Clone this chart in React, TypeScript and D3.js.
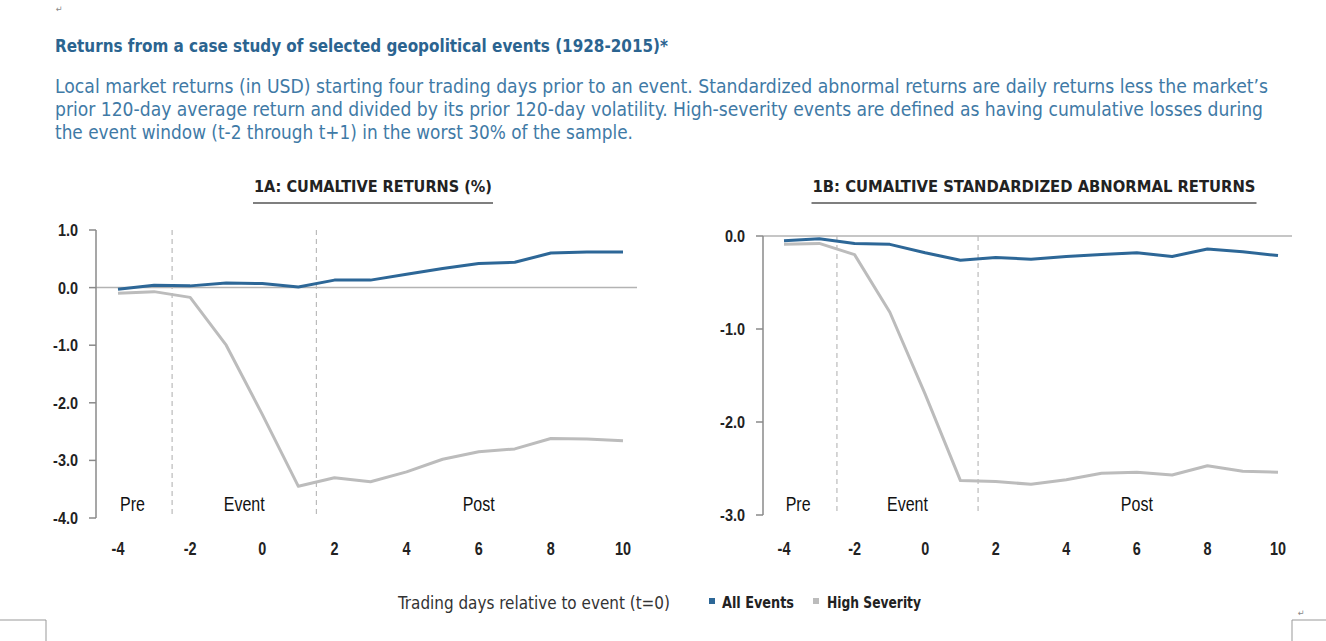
import * as d3 from "d3";

// ---- data ----
const days = [-4, -3, -2, -1, 0, 1, 2, 3, 4, 5, 6, 7, 8, 9, 10];
const cumAll = [-0.03, 0.04, 0.03, 0.08, 0.07, 0.01, 0.13, 0.13, 0.23, 0.33, 0.42, 0.44, 0.6, 0.62, 0.62];
const cumHigh = [-0.1, -0.07, -0.17, -1.0, -2.2, -3.45, -3.3, -3.37, -3.2, -2.98, -2.85, -2.8, -2.62, -2.63, -2.66];
const carAll = [-0.05, -0.03, -0.08, -0.09, -0.18, -0.26, -0.23, -0.25, -0.22, -0.2, -0.18, -0.22, -0.14, -0.17, -0.21];
const carHigh = [-0.09, -0.08, -0.2, -0.82, -1.7, -2.63, -2.64, -2.67, -2.62, -2.55, -2.54, -2.57, -2.47, -2.53, -2.54];
const xTicks = [-4, -2, 0, 2, 4, 6, 8, 10];
const ticksA = [1, 0, -1, -2, -3, -4];
const ticksB = [0, -1, -2, -3];
const phases = [
  { label: "Pre", at: -3.6 },
  { label: "Event", at: -0.5 },
  { label: "Post", at: 6 },
];
const dividers = [-2.5, 1.5];

const title = "Returns from a case study of selected geopolitical events (1928-2015)*";
const intro = [
  "Local market returns (in USD) starting four trading days prior to an event. Standardized abnormal returns are daily returns less the market\u2019s",
  "prior 120-day average return and divided by its prior 120-day volatility. High-severity events are defined as having cumulative losses during",
  "the event window (t-2 through t+1) in the worst 30% of the sample.",
];
const introWidths = [1213, 1208, 578];

const BLUE = "#2d6797";
const GREY = "#bcbcbc";
const FONT = "'Liberation Sans Narrow', 'DejaVu Sans Condensed', 'Roboto Condensed', sans-serif";
const ARIAL = "'Liberation Sans', Arial, sans-serif";

const fmt = (v: number) => d3.format(".1f")(v).replace("\u2212", "-");

// narrow text: regular font squeezed horizontally
function Narrow(props: { x: number; y: number; size: number; sx?: number; anchor?: string; weight?: string; fill?: string; children: any }) {
  return (
    <g transform={`translate(${props.x},${props.y}) scale(${props.sx ?? 0.8},1)`}>
      <text x={0} y={0} fontFamily={ARIAL} fontSize={props.size} fontWeight={props.weight || "normal"}
        fill={props.fill || "#222"} textAnchor={props.anchor || "start"}>{props.children}</text>
    </g>
  );
}

type PanelProps = {
  title: string;
  titleX: number;
  titleW: number;
  all: number[];
  high: number[];
  yDomain: [number, number];
  yTop: number;
  yBottom: number;
  axisX: number;
  x0: number;
  x1: number;
  lineEnd: number;
  yTicks: number[];
};

function Panel(p: PanelProps) {
  const [yMin, yMax] = p.yDomain;
  const x = d3.scaleLinear().domain([-4, 10]).range([p.x0, p.x1]);
  const y = d3.scaleLinear().domain([yMin, yMax]).range([p.yBottom, p.yTop]);
  const line = d3.line<number>().x((_, i) => x(days[i])).y((d) => y(d));
  return (
    <g>
      <text x={p.titleX} y={192} fontFamily={FONT} fontSize={16} fontWeight="bold" fill="#222"
        textAnchor="middle" textLength={p.titleW} lengthAdjust="spacingAndGlyphs">{p.title}</text>
      <line x1={p.titleX - p.titleW / 2 - 1} x2={p.titleX + p.titleW / 2 + 1} y1={203} y2={203} stroke="#555" strokeWidth={1.5} />
      {/* zero line */}
      <line x1={p.axisX} x2={p.lineEnd} y1={y(0)} y2={y(0)} stroke="#b3b3b3" strokeWidth={1.5} />
      {/* y axis */}
      <line x1={p.axisX} x2={p.axisX} y1={y(yMin)} y2={y(yMax)} stroke="#8a8a8a" strokeWidth={1.5} />
      {p.yTicks.map((t) => (
        <g key={t}>
          <line x1={p.axisX - 7} x2={p.axisX} y1={y(t)} y2={y(t)} stroke="#8a8a8a" strokeWidth={1.5} />
          <Narrow x={p.axisX - 18} y={y(t) + 6} size={17} sx={0.85} weight="bold" anchor="end">{fmt(t)}</Narrow>
        </g>
      ))}
      {xTicks.map((t) => (
        <Narrow key={t} x={x(t)} y={555} size={18} sx={0.8} weight="bold" anchor="middle">{t}</Narrow>
      ))}
      {dividers.map((d) => (
        <line key={d} x1={x(d)} x2={x(d)} y1={y(yMax)} y2={y(yMin)} stroke="#bbb"
          strokeWidth={1.2} strokeDasharray="5,4" />
      ))}
      {phases.map((ph) => (
        <Narrow key={ph.label} x={x(ph.at)} y={511} size={20} sx={0.8} fill="#111" anchor="middle">{ph.label}</Narrow>
      ))}
      <path d={line(p.high) || ""} fill="none" stroke={GREY} strokeWidth={3} strokeLinejoin="round" />
      <path d={line(p.all) || ""} fill="none" stroke={BLUE} strokeWidth={3} strokeLinejoin="round" />
    </g>
  );
}

export default function App() {
  return (
    <div style={{ position: "absolute", left: 0, top: 0, background: "#fff" }}>
      <svg width={1326} height={641} style={{ display: "block" }}>
        <rect width={1326} height={641} fill="#fff" />
        <text x={56} y={12} fontSize={9} fill="#888" fontFamily={FONT}>{"\u21b5"}</text>
        <text x={55} y={52} fontFamily={FONT} fontSize={17} fontWeight="bold" fill="#2b6490"
          textLength={613} lengthAdjust="spacingAndGlyphs">{title}</text>
        {intro.map((l, i) => (
          <text key={i} x={55} y={93 + i * 23} fontFamily={FONT} fontSize={19} fill="#3f7aa6"
            textLength={introWidths[i]} lengthAdjust="spacingAndGlyphs">{l}</text>
        ))}
        <Panel title="1A: CUMALTIVE RETURNS (%)" titleX={373} titleW={238} all={cumAll} high={cumHigh}
          yDomain={[-4, 1]} yTop={230} yBottom={518} axisX={96} x0={118} x1={623} lineEnd={637} yTicks={ticksA} />
        <Panel title="1B: CUMALTIVE STANDARDIZED ABNORMAL RETURNS" titleX={1034} titleW={443} all={carAll} high={carHigh}
          yDomain={[-3, 0]} yTop={236} yBottom={515} axisX={763} x0={784} x1={1278} lineEnd={1292} yTicks={ticksB} />
        {/* footer */}
        <text x={398} y={609} fontFamily={FONT} fontSize={18} fill="#333" textLength={272}
          lengthAdjust="spacingAndGlyphs">Trading days relative to event (t=0)</text>
        <rect x={709} y={598} width={6} height={6} fill={BLUE} />
        <text x={722} y={608} fontFamily={FONT} fontSize={15} fontWeight="bold" fill="#222" textLength={72}
          lengthAdjust="spacingAndGlyphs">All Events</text>
        <rect x={813} y={598} width={6} height={6} fill={GREY} />
        <text x={827} y={608} fontFamily={FONT} fontSize={15} fontWeight="bold" fill="#222" textLength={94}
          lengthAdjust="spacingAndGlyphs">High Severity</text>
        <path d="M0,620 H46 V641" fill="none" stroke="#999" strokeWidth={1} />
        <path d="M1326,620 H1292 V641" fill="none" stroke="#999" strokeWidth={1} />
        <text x={1298} y={616} fontSize={9} fill="#888" fontFamily={FONT}>{"\u21b5"}</text>
      </svg>
    </div>
  );
}
